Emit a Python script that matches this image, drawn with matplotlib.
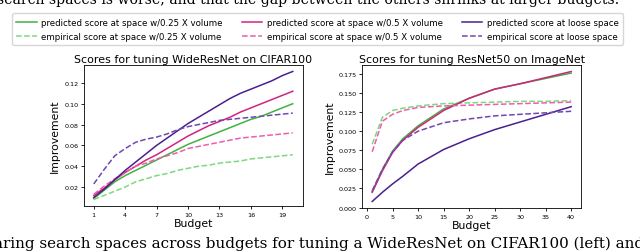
import matplotlib.pyplot as plt

# ------------------------------------------------------------
# Data
# ------------------------------------------------------------
cifar_budget = list(range(1, 21))
cifar_quarter_pred = [0.009, 0.017, 0.025, 0.031, 0.036, 0.041, 0.046, 0.051, 0.056, 0.061,
                      0.065, 0.069, 0.073, 0.077, 0.081, 0.085, 0.088, 0.092, 0.096, 0.100]
cifar_quarter_emp = [0.008, 0.012, 0.016, 0.020, 0.025, 0.028, 0.031, 0.033, 0.036, 0.038,
                     0.040, 0.041, 0.043, 0.044, 0.045, 0.047, 0.048, 0.049, 0.050, 0.051]
cifar_half_pred = [0.012, 0.019, 0.027, 0.034, 0.040, 0.046, 0.051, 0.057, 0.063, 0.069,
                   0.074, 0.079, 0.083, 0.087, 0.092, 0.096, 0.100, 0.104, 0.108, 0.112]
cifar_half_emp = [0.013, 0.021, 0.028, 0.034, 0.040, 0.043, 0.047, 0.050, 0.053, 0.057,
                  0.059, 0.061, 0.063, 0.065, 0.067, 0.068, 0.069, 0.070, 0.071, 0.072]
cifar_loose_pred = [0.010, 0.018, 0.027, 0.036, 0.044, 0.052, 0.060, 0.067, 0.074, 0.081,
                    0.087, 0.093, 0.099, 0.105, 0.110, 0.114, 0.118, 0.122, 0.127, 0.131]
cifar_loose_emp = [0.023, 0.037, 0.050, 0.057, 0.063, 0.066, 0.068, 0.071, 0.075, 0.078,
                   0.080, 0.082, 0.084, 0.085, 0.086, 0.087, 0.088, 0.089, 0.090, 0.091]

imnet_budget = [1, 3, 5, 7, 10, 15, 20, 25, 30, 35, 40]
imnet_quarter_pred = [0.021, 0.050, 0.074, 0.090, 0.107, 0.129, 0.143, 0.155, 0.162, 0.169, 0.176]
imnet_quarter_emp = [0.083, 0.118, 0.127, 0.130, 0.133, 0.136, 0.137, 0.138, 0.139, 0.139, 0.140]
imnet_half_pred = [0.020, 0.048, 0.072, 0.088, 0.105, 0.127, 0.143, 0.155, 0.162, 0.170, 0.178]
imnet_half_emp = [0.073, 0.113, 0.122, 0.127, 0.131, 0.133, 0.134, 0.135, 0.136, 0.137, 0.138]
imnet_loose_pred = [0.008, 0.020, 0.031, 0.041, 0.057, 0.076, 0.090, 0.102, 0.112, 0.122, 0.132]
imnet_loose_emp = [0.022, 0.050, 0.073, 0.088, 0.100, 0.111, 0.116, 0.120, 0.122, 0.124, 0.126]

labels = ["predicted score at space w/0.25 X volume", "empirical score at space w/0.25 X volume",
          "predicted score at space w/0.5 X volume", "empirical score at space w/0.5 X volume",
          "predicted score at loose space", "empirical score at loose space"]

colors = {"quarter": ("#3fb23f", "#7fd87f"),
          "half": ("#d0247f", "#ec5fab"),
          "loose": ("#4a2090", "#7048b0")}

# ------------------------------------------------------------
# Plot
# ------------------------------------------------------------
fig = plt.figure(figsize=(6.4, 2.53), dpi=100)
ax1 = fig.add_axes([0.131, 0.182, 0.342, 0.557])
ax2 = fig.add_axes([0.566, 0.174, 0.342, 0.565])

def draw(ax, x, series):
    handles = []
    for key, pred, emp in series:
        c_pred, c_emp = colors[key]
        h1, = ax.plot(x, pred, color=c_pred, lw=1.1)
        h2, = ax.plot(x, emp, color=c_emp, lw=1.1, ls="--")
        handles += [h1, h2]
    ax.tick_params(labelsize=4.6, length=2, width=0.6, pad=2)
    ax.set_xlabel("Budget", fontsize=7.8, labelpad=1)
    ax.set_ylabel("Improvement", fontsize=7.8, labelpad=3)
    for s in ax.spines.values():
        s.set_linewidth(0.6)
    return handles

handles = draw(ax1, cifar_budget, [("quarter", cifar_quarter_pred, cifar_quarter_emp),
                                    ("half", cifar_half_pred, cifar_half_emp),
                                    ("loose", cifar_loose_pred, cifar_loose_emp)])
ax1.set_xticks([1, 4, 7, 10, 13, 16, 19])
ax1.set_yticks([0.02, 0.04, 0.06, 0.08, 0.10, 0.12])
ax1.set_title("Scores for tuning WideResNet on CIFAR100", fontsize=7.9, pad=2)

draw(ax2, imnet_budget, [("quarter", imnet_quarter_pred, imnet_quarter_emp),
                         ("half", imnet_half_pred, imnet_half_emp),
                         ("loose", imnet_loose_pred, imnet_loose_emp)])
ax2.set_xticks(range(0, 41, 5))
ax2.set_title("Scores for tuning ResNet50 on ImageNet", fontsize=7.9, pad=2)

fig.legend(handles, labels, ncol=3, fontsize=6.2, loc="upper left",
           bbox_to_anchor=(0.012, 0.96), frameon=True, handlelength=2.4,
           handletextpad=0.5, columnspacing=2.2, borderpad=0.5, labelspacing=0.6)

# surrounding paper text, clipped at the image edges
fig.text(-0.005, 1.0, "search spaces is worse, and that the gap between the others shrinks at larger budgets.",
         family="DejaVu Serif", fontsize=10.1, va="center", ha="left")
fig.text(-0.01, 0.035, "aring search spaces across budgets for tuning a WideResNet on CIFAR100 (left) and",
         family="DejaVu Serif", fontsize=10.9, va="center", ha="left")

fig.savefig("out.png", dpi=100)
